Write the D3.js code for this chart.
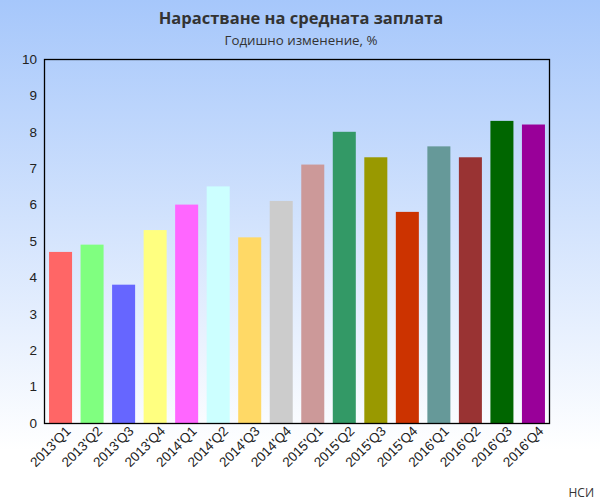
<!DOCTYPE html>
<html>
<head>
<meta charset="utf-8">
<script src="https://cdn.jsdelivr.net/npm/d3@7"></script>
<style>
body { margin: 0; }
svg text { font-family: "Liberation Sans", Arial, sans-serif; }
.title, .subtitle, .src { font-family: "Open Sans", "Noto Sans", sans-serif; }
</style>
</head>
<body>
<script>
var quarters = ["2013'Q1","2013'Q2","2013'Q3","2013'Q4","2014'Q1","2014'Q2","2014'Q3","2014'Q4",
                "2015'Q1","2015'Q2","2015'Q3","2015'Q4","2016'Q1","2016'Q2","2016'Q3","2016'Q4"];
var growth = [4.7, 4.9, 3.8, 5.3, 6.0, 6.5, 5.1, 6.1, 7.1, 8.0, 7.3, 5.8, 7.6, 7.3, 8.3, 8.2];
var barColors = ["#ff6666","#80ff80","#6666ff","#ffff80","#ff66ff","#ccffff","#ffd966","#cccccc",
                 "#cc9999","#339966","#999900","#cc3300","#669999","#993333","#006600","#990099"];
var yTicks = [0,1,2,3,4,5,6,7,8,9,10];

var width = 600, height = 500;
var margin = {top: 59, right: 50, bottom: 77, left: 44};

var svg = d3.select("body").append("svg").attr("width", width).attr("height", height);

var grad = svg.append("defs").append("linearGradient")
  .attr("id", "bg").attr("x1", 0).attr("y1", 0).attr("x2", 0).attr("y2", 1);
grad.append("stop").attr("offset", "0%").attr("stop-color", "#a6c7fb");
grad.append("stop").attr("offset", "90%").attr("stop-color", "#ffffff");
grad.append("stop").attr("offset", "100%").attr("stop-color", "#ffffff");
svg.append("rect").attr("width", width).attr("height", height).attr("fill", "url(#bg)");

var x = d3.scaleBand().domain(quarters)
  .range([margin.left, width - margin.right])
  .paddingInner(0.27).paddingOuter(0.16);
var y = d3.scaleLinear().domain([0, 10]).range([height - margin.bottom, margin.top]);

svg.selectAll("rect.bar").data(growth).enter().append("rect")
  .attr("class", "bar")
  .attr("x", function(d, i){ return x(quarters[i]); })
  .attr("width", x.bandwidth())
  .attr("y", function(d){ return y(d); })
  .attr("height", function(d){ return y(0) - y(d); })
  .attr("fill", function(d, i){ return barColors[i]; });

// frame
svg.append("rect")
  .attr("x", margin.left + 0.5).attr("y", margin.top + 0.5)
  .attr("width", width - margin.left - margin.right - 1)
  .attr("height", height - margin.top - margin.bottom)
  .attr("fill", "none").attr("stroke", "#000").attr("stroke-width", 1.3);

var yAxis = svg.append("g").attr("transform", "translate(" + margin.left + ",0)")
  .call(d3.axisLeft(y).tickValues(yTicks).tickSize(0).tickPadding(7));
yAxis.select(".domain").remove();
yAxis.selectAll("text").attr("font-size", 13.5).attr("fill", "#222")
  .attr("font-family", "Liberation Sans, Arial, sans-serif");

var xAxis = svg.append("g").attr("transform", "translate(0," + (height - margin.bottom) + ")")
  .call(d3.axisBottom(x).tickSize(0).tickPadding(4));
xAxis.select(".domain").remove();
xAxis.selectAll("text")
  .attr("font-size", 13.5).attr("fill", "#222")
  .attr("font-family", "Liberation Sans, Arial, sans-serif")
  .attr("text-anchor", "end")
  .attr("dx", "0.1em").attr("dy", "0.75em")
  .attr("transform", "rotate(-45)");

svg.append("text").attr("class", "title")
  .attr("x", 301).attr("y", 24).attr("text-anchor", "middle")
  .attr("font-size", 16.5).attr("font-weight", "bold").attr("fill", "#333")
  .text("Нарастване на средната заплата");
svg.append("text").attr("class", "subtitle")
  .attr("x", 301).attr("y", 45).attr("text-anchor", "middle")
  .attr("font-size", 13.3).attr("fill", "#333")
  .text("Годишно изменение, %");
svg.append("text").attr("class", "src")
  .attr("x", 594).attr("y", 497).attr("text-anchor", "end")
  .attr("font-size", 12).attr("fill", "#333")
  .text("НСИ");
</script>
</body>
</html>
